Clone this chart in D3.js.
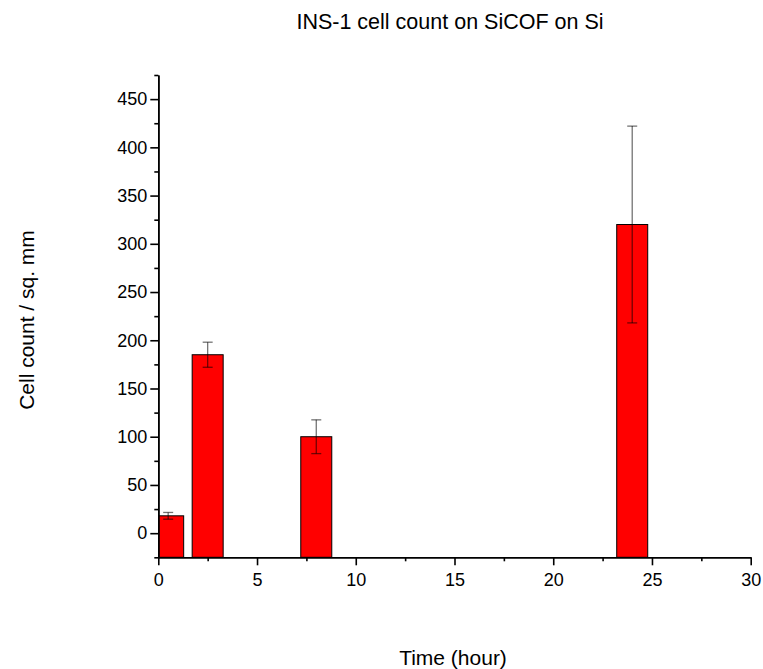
<!DOCTYPE html>
<html><head><meta charset="utf-8">
<script src="https://cdn.jsdelivr.net/npm/d3@7"></script>
<style>body{margin:0;background:#fff}svg{display:block}text{font-family:"Liberation Sans",Arial,sans-serif;fill:#000}</style>
</head><body>
<script>
const times = [0.5, 2.5, 8, 24];
const counts = [18, 185, 100, 320];
const errors = [3.5, 13, 17.5, 102];
const barWidthHours = 1.57;
const xTicks = [0, 5, 10, 15, 20, 25, 30];
const yTicks = [0, 50, 100, 150, 200, 250, 300, 350, 400, 450];
const title = "INS-1 cell count on SiCOF on Si";
const xLabel = "Time (hour)";
const yLabel = "Cell count / sq. mm";

const W = 763, H = 669;
const svg = d3.select("body").append("svg").attr("width", W).attr("height", H);
const x = d3.scaleLinear().domain([0, 30]).range([158.3, 750.7]);
const y = d3.scaleLinear().domain([-25, 475]).range([557.3, 75]);

svg.append("defs").append("clipPath").attr("id","plot")
  .append("rect").attr("x", x(0)).attr("y", y(475)).attr("width", x(30)-x(0)).attr("height", y(-25)-y(475));

const data = times.map((t,i)=>({t, v: counts[i], e: errors[i]}));
const g = svg.append("g").attr("clip-path","url(#plot)");
g.selectAll("rect.bar").data(data).enter().append("rect")
  .attr("class","bar")
  .attr("x", d => x(d.t - barWidthHours/2))
  .attr("width", d => x(d.t + barWidthHours/2) - x(d.t - barWidthHours/2))
  .attr("y", d => y(d.v))
  .attr("height", d => y(-25) - y(d.v))
  .attr("fill", "#ff0000").attr("stroke", "#000").attr("stroke-width", 1);

const eg = svg.append("g").attr("stroke","#000").attr("stroke-opacity",0.55).attr("stroke-width",1.3);
data.forEach(d => {
  const cx = x(d.t);
  eg.append("line").attr("x1",cx).attr("x2",cx).attr("y1",y(d.v+d.e)).attr("y2",y(d.v-d.e));
  eg.append("line").attr("x1",cx-5).attr("x2",cx+5).attr("y1",y(d.v+d.e)).attr("y2",y(d.v+d.e));
  eg.append("line").attr("x1",cx-5).attr("x2",cx+5).attr("y1",y(d.v-d.e)).attr("y2",y(d.v-d.e));
});

// axes
const xAxis = svg.append("g").attr("transform", `translate(0,${y(-25)})`)
  .call(d3.axisBottom(x).tickValues(xTicks).tickSize(8).tickPadding(7).tickSizeOuter(0));
const xMinor = svg.append("g").attr("transform", `translate(0,${y(-25)})`)
  .call(d3.axisBottom(x).tickValues(d3.range(2.5, 30, 5)).tickSize(4).tickFormat("").tickSizeOuter(0));
const yAxis = svg.append("g").attr("transform", `translate(${x(0)},0)`)
  .call(d3.axisLeft(y).tickValues(yTicks).tickSize(8).tickPadding(3).tickSizeOuter(0));
const yMinor = svg.append("g").attr("transform", `translate(${x(0)},0)`)
  .call(d3.axisLeft(y).tickValues(d3.range(-25, 476, 50)).tickSize(4).tickFormat("").tickSizeOuter(0));
[xAxis, xMinor, yAxis, yMinor].forEach(a => {
  a.selectAll("path.domain").attr("stroke","#000").attr("stroke-width",1.6);
  a.selectAll(".tick line").attr("stroke","#000").attr("stroke-width",1.6);
  a.selectAll(".tick text").style("font-family",'"Liberation Sans",Arial,sans-serif').style("font-size","18px").attr("fill","#000");
});
xAxis.selectAll(".tick text").attr("dy","0.75em");

svg.append("text").attr("x", 450).attr("y", 29).attr("text-anchor","middle")
  .style("font-size","21.5px").text(title);
svg.append("text").attr("x", 453).attr("y", 665).attr("text-anchor","middle")
  .style("font-size","21px").text(xLabel);
svg.append("text").attr("transform","translate(34,320) rotate(-90)").attr("text-anchor","middle")
  .style("font-size","21px").text(yLabel);
</script>
</body></html>
